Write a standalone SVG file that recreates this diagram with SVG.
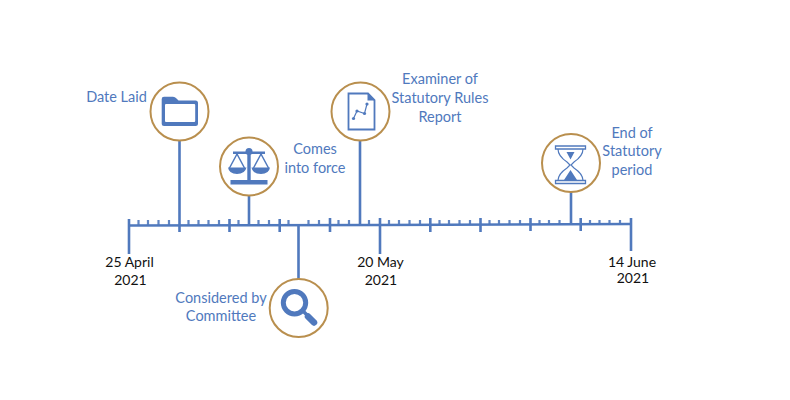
<svg xmlns="http://www.w3.org/2000/svg" width="790" height="400" viewBox="0 0 790 400">
<defs><style>
.ln{stroke:#5079bd;fill:none;stroke-width:2.6}
.mj{stroke:#5079bd;fill:none;stroke-width:2.6}
.mn{stroke:#5079bd;fill:none;stroke-width:2.2;stroke-opacity:.9}
.c{fill:#fff;stroke:#b98f4e;stroke-width:2}
.t{font-family:"Lato","Liberation Sans",sans-serif;font-size:14.500px;fill:#5079bd;text-anchor:middle}
.d{font-family:"Lato","Liberation Sans",sans-serif;font-size:14px;fill:#111;text-anchor:middle}
.f{fill:#5079bd}
.o{fill:none;stroke:#5079bd}
</style></defs>
<rect width="790" height="400" fill="#fff"/>
<g id="connectors">
<path class="ln" d="M129 225.500L380 225L631 224"/>
<path class="ln" d="M129 219V254M380 218V254M631 218V251"/>
<path class="mj" d="M179.500 140V232M229.500 219V232M279.700 219V232M330 218V232M430.300 218V232M480.500 218V232M530.500 218V231M580.700 218V231"/>
<path class="ln" d="M249 195V225M360 140V225M571 192V224M298.500 225V279"/>
<path class="mn" d="M138.500 220V226M148 220V226M158.500 220V226M169 220V226M188.500 220V226M198.500 220V226M208.500 220V226M219 220V226M238.500 220V226M258.500 220V226M269 220V226M288.500 220V226M308.500 220V226M319 220V226M338.500 220V226M349 220V226M369 220V226M389 220V225M399 220V225M409.500 220V225M420 220V225M439.500 220V225M449 220V225M459.500 220V225M470 220V225M489.500 220V225M499 220V225M509.500 220V225M520 220V225M539.500 220V225M549 220V225M559.500 220V225M590 220V225M599.500 220V225M609.500 220V225M620 220V225"/>
</g>
<g id="node-date-laid">
<circle class="c" cx="179.500" cy="111.500" r="29"/>
<path class="f" d="M161.700 124V99Q161.700 96.700 164 96.700H173Q175 96.700 176.500 98.500L178.500 100.500H195.500Q198 100.500 198 103V123.500Q198 126 195.500 126H164Q161.700 126 161.700 124Z"/>
<rect x="165" y="104" width="30.200" height="18" rx="1" fill="#fff"/>
<text class="t" x="116.500" y="102">Date Laid</text>
</g>
<g id="node-comes-into-force">
<circle class="c" cx="249" cy="166.500" r="29"/>
<path class="f" d="M233 151.500H265V154H233ZM247.300 152H250.700V182H247.300ZM230.500 180H267.500V184.500H230.500Z"/>
<circle class="f" cx="249" cy="151.500" r="3.500"/>
<path class="o" stroke-width="1.500" d="M237 154L229.500 168M237 154L244.500 168M261 154L253.500 168M261 154L268.500 168"/>
<path class="f" d="M228 167.500H246.500Q245 174 237 174Q229 174 228 167.500ZM251.500 167.500H270Q269 174 261 174Q253 174 251.500 167.500Z"/>
<text class="t" x="315" y="154">Comes</text>
<text class="t" x="315" y="173">into force</text>
</g>
<g id="node-considered">
<circle class="c" cx="298.700" cy="308" r="29"/>
<circle class="o" stroke-width="5" cx="294.500" cy="302.700" r="11.200"/>
<path class="o" stroke-width="3.500" d="M303 311L309 317"/>
<path class="o" stroke-width="6.500" stroke-linecap="round" d="M308 316.500L314 322.500"/>
<text class="t" x="221" y="303">Considered by</text>
<text class="t" x="221" y="321">Committee</text>
</g>
<g id="node-report">
<circle class="c" cx="360.500" cy="111.500" r="29"/>
<path class="o" stroke-width="1.800" d="M348.500 93.500H368L374.500 100V129.500H348.500Z"/>
<path class="f" d="M367.500 93L375 100.500H367.500Z"/>
<path class="o" stroke-width="1.200" d="M353.500 118.500L357 111L364.500 113.500L367 104"/>
<circle class="f" cx="353.500" cy="118.500" r="1.600"/><circle class="f" cx="357" cy="111" r="1.600"/><circle class="f" cx="364.500" cy="113.500" r="1.600"/><circle class="f" cx="367" cy="104" r="1.600"/>
<text class="t" x="440" y="84">Examiner of</text>
<text class="t" x="440" y="103">Statutory Rules</text>
<text class="t" x="440" y="122">Report</text>
</g>
<g id="node-end-statutory">
<circle class="c" cx="571" cy="163" r="29"/>
<path class="o" stroke-width="1.300" d="M555.500 146H585.500V149H555.500ZM555.500 180.500H585.500V183.500H555.500Z"/>
<path class="o" stroke-width="1.200" d="M558 149Q558 156 567 162L570 165L567 168Q558 174 558 180.500M583 149Q583 156 574 162L571 165L574 168Q583 174 583 180.500"/>
<path class="f" d="M566.500 152H574.500L570.500 159.500ZM570.500 170L577 180H564Z"/>
<text class="t" x="632" y="138">End of</text>
<text class="t" x="632" y="156">Statutory</text>
<text class="t" x="632" y="175">period</text>
</g>
<g id="labels">
<text class="d" x="129.500" y="267">25 April</text>
<text class="d" x="130.500" y="285">2021</text>
<text class="d" x="380.500" y="267">20 May</text>
<text class="d" x="381" y="285">2021</text>
<text class="d" x="632" y="266.500">14 June</text>
<text class="d" x="633" y="283">2021</text>
</g>
</svg>
